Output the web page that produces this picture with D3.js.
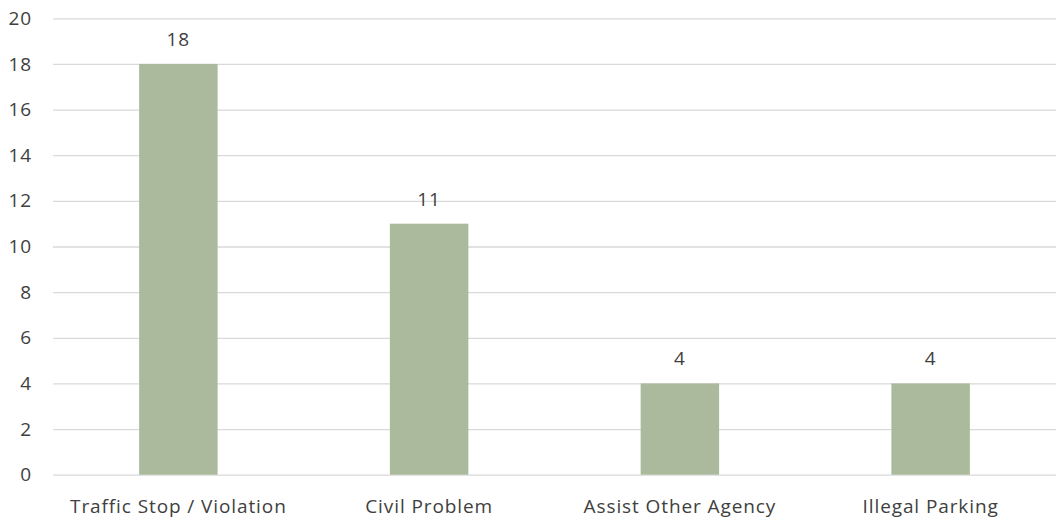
<!DOCTYPE html>
<html><head><meta charset="utf-8">
<script src="https://cdn.jsdelivr.net/npm/d3@7"></script>
<style>body{margin:0;background:#fff}svg{display:block}text{font-family:"Open Sans","Noto Sans",sans-serif;fill:#404040}</style>
</head><body><svg id="c" width="1057" height="521"></svg>
<script>
const categories = ["Traffic Stop / Violation", "Civil Problem", "Assist Other Agency", "Illegal Parking"];
const values = [18, 11, 4, 4];
const yTicks = [0, 2, 4, 6, 8, 10, 12, 14, 16, 18, 20];

(function () {
const svg = d3.select("#c");
const mLeft = 53, mRight = 1056, mTop = 18.3, mBottom = 474.7;
const fs = "19px", ls = "0.9px";
const x = d3.scaleBand().domain(categories).range([mLeft, mRight]).paddingInner(0.687).paddingOuter(0.3435);
const y = d3.scaleLinear().domain([0, 20]).range([mBottom, mTop]);

const yAxis = svg.append("g").attr("transform", `translate(${mLeft},0)`)
  .call(d3.axisLeft(y).tickValues(yTicks).tickSize(-(mRight - mLeft)).tickPadding(21));
yAxis.select(".domain").remove();
yAxis.selectAll("line").attr("stroke", "#d9d9d9").attr("stroke-width", 1.3);
yAxis.selectAll("text").style("font-size", fs).style("letter-spacing", ls).attr("fill", "#404040");

svg.append("g").selectAll("rect").data(values).join("rect")
  .attr("x", (d, i) => x(categories[i]))
  .attr("width", x.bandwidth())
  .attr("y", d => y(d))
  .attr("height", d => y(0) - y(d))
  .attr("fill", "#abba9c");

svg.append("g").selectAll("text").data(values).join("text")
  .attr("x", (d, i) => x(categories[i]) + x.bandwidth() / 2)
  .attr("y", d => y(d) - 18)
  .attr("text-anchor", "middle")
  .style("font-size", fs).style("letter-spacing", ls)
  .text(d => d);

const xAxis = svg.append("g").attr("transform", `translate(0,${mBottom})`)
  .call(d3.axisBottom(x).tickSize(0).tickPadding(24.5));
xAxis.select(".domain").remove();
xAxis.selectAll("text").style("font-size", fs).style("letter-spacing", ls).attr("fill", "#404040");
})();
</script></body></html>
